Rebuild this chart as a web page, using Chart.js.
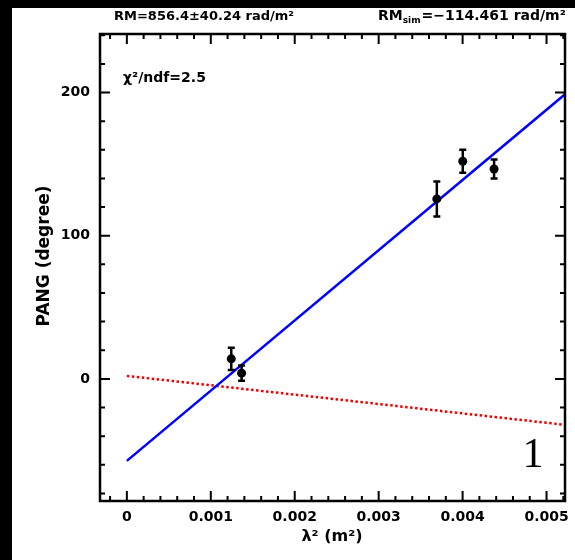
<!DOCTYPE html>
<html>
<head>
<meta charset="utf-8">
<script src="https://cdn.jsdelivr.net/npm/chart.js@4"></script>
<style>
  html, body { margin: 0; padding: 0; background: #000; }
  body { width: 575px; height: 560px; position: relative; overflow: hidden; }
  #plot { position: absolute; left: 12px; top: 8px; background: #fff; }
</style>
</head>
<body>
<canvas id="plot" width="563" height="552"></canvas>
<script>
// measured points: lambda^2 (m^2), polarization angle (deg), error (deg)
const lambda2 = [0.001244, 0.001367, 0.003693, 0.004002, 0.004375];
const pang = [14.0, 4.0, 125.7, 152.0, 146.6];
const pangErr = [7.8, 5.3, 12.2, 8.0, 6.7];

// fitted line (RM=856.4) and simulated line (RM_sim=-114.461), end values
const fitX = [0, 0.00522];
const fitObs = [-57.3, 198.8];
const fitSim = [2.1, -32.1];

const xRange = [-0.00032, 0.00522];
const yRange = [-85.3, 240.9];
const xMajor = 0.001;
const yMajor = 100;

const FONT = '"DejaVu Sans", sans-serif';

function pts(xs, ys) {
    return xs.map((x, i) => ({x: x, y: ys[i]}));
}

const framePlugin = {
    id: 'frame',
    afterDatasetsDraw(chart) {
        const {ctx, scales: {x, y}} = chart;
        ctx.save();
        ctx.strokeStyle = 'black';
        ctx.lineWidth = 2.5;
        chart.data.datasets[0].data.forEach((p, i) => {
            const px = x.getPixelForValue(p.x);
            const top = y.getPixelForValue(p.y + pangErr[i]);
            const bot = y.getPixelForValue(p.y - pangErr[i]);
            ctx.beginPath();
            ctx.moveTo(px, top); ctx.lineTo(px, bot);
            ctx.moveTo(px - 3.5, top); ctx.lineTo(px + 3.5, top);
            ctx.moveTo(px - 3.5, bot); ctx.lineTo(px + 3.5, bot);
            ctx.stroke();
        });
        ctx.restore();
    },
    afterDraw(chart) {
        const {ctx, chartArea: {left, right, top, bottom}, scales: {x, y}} = chart;
        ctx.save();
        ctx.strokeStyle = 'black';
        ctx.lineWidth = 2.5;
        ctx.strokeRect(left, top, right - left, bottom - top);

        // inward ticks on all four sides, 4 minor per major
        ctx.lineWidth = 2;
        ctx.beginPath();
        const xm = xMajor / 5;
        for (let k = Math.ceil(x.min / xm); k <= Math.floor(x.max / xm); k++) {
            const px = x.getPixelForValue(k * xm);
            const len = k % 5 === 0 ? 10 : 5;
            ctx.moveTo(px, bottom); ctx.lineTo(px, bottom - len);
            ctx.moveTo(px, top); ctx.lineTo(px, top + len);
        }
        const ym = yMajor / 5;
        for (let k = Math.ceil(y.min / ym); k <= Math.floor(y.max / ym); k++) {
            const py = y.getPixelForValue(k * ym);
            const len = k % 5 === 0 ? 10 : 5;
            ctx.moveTo(left, py); ctx.lineTo(left + len, py);
            ctx.moveTo(right, py); ctx.lineTo(right - len, py);
        }
        ctx.stroke();

        // texts
        ctx.fillStyle = 'black';
        ctx.textBaseline = 'alphabetic';
        ctx.textAlign = 'center';
        ctx.font = 'bold 13px ' + FONT;
        ctx.fillText('RM=856.4\u00b140.24 rad/m\u00b2', 192, 12);

        ctx.textAlign = 'left';
        let tx = 366;
        ctx.font = 'bold 14px ' + FONT;
        ctx.fillText('RM', tx, 12);
        tx += ctx.measureText('RM').width;
        ctx.font = 'bold 9px ' + FONT;
        ctx.fillText('sim', tx, 15);
        tx += ctx.measureText('sim').width + 1;
        ctx.font = 'bold 14px ' + FONT;
        ctx.fillText('=\u2212114.461 rad/m\u00b2', tx, 12);

        ctx.font = 'bold 14px ' + FONT;
        ctx.fillText('\u03c7\u00b2/ndf=2.5', 111, 74);

        ctx.textAlign = 'center';
        ctx.font = '42px "Liberation Serif", serif';
        ctx.fillText('1', 521, 459);

        ctx.textBaseline = 'middle';
        ctx.font = 'bold 16px ' + FONT;
        ctx.fillText('\u03bb\u00b2 (m\u00b2)', 320, 529);

        ctx.translate(33, 248);
        ctx.rotate(-Math.PI / 2);
        ctx.font = 'bold 17px ' + FONT;
        ctx.fillText('PANG (degree)', 0, 0);
        ctx.restore();
    }
};

Chart.register(framePlugin);

new Chart(document.getElementById('plot'), {
    type: 'scatter',
    data: {
        datasets: [
            {
                label: 'PANG',
                data: pts(lambda2, pang),
                backgroundColor: 'black',
                borderColor: 'black',
                borderWidth: 0,
                pointRadius: 4.5
            },
            {
                label: 'fit',
                data: pts(fitX, fitObs),
                showLine: true,
                borderColor: '#0000ff',
                borderWidth: 2.5,
                pointRadius: 0
            },
            {
                label: 'sim',
                data: pts(fitX, fitSim),
                showLine: true,
                borderColor: '#ee0000',
                borderWidth: 2.5,
                borderDash: [2.5, 2.5],
                pointRadius: 0
            }
        ]
    },
    options: {
        responsive: false,
        animation: false,
        layout: { padding: { top: 26, right: 10, left: 0, bottom: 0 } },
        plugins: { legend: { display: false }, tooltip: { enabled: false } },
        scales: {
            x: {
                type: 'linear',
                min: xRange[0],
                max: xRange[1],
                grid: { display: false, drawTicks: false },
                border: { display: false },
                ticks: {
                    stepSize: xMajor,
                    includeBounds: false,
                    padding: 8,
                    maxRotation: 0,
                    color: 'black',
                    font: { family: FONT, size: 14, weight: 'bold' }
                },
                afterFit(s) { s.height = 59; s.paddingLeft = 0; s.paddingRight = 0; }
            },
            y: {
                type: 'linear',
                min: yRange[0],
                max: yRange[1],
                grid: { display: false, drawTicks: false },
                border: { display: false },
                ticks: {
                    stepSize: yMajor,
                    includeBounds: false,
                    padding: 10,
                    color: 'black',
                    font: { family: FONT, size: 14, weight: 'bold' }
                },
                afterFit(s) { s.width = 88; s.paddingTop = 0; s.paddingBottom = 0; }
            }
        }
    }
});
</script>
</body>
</html>
